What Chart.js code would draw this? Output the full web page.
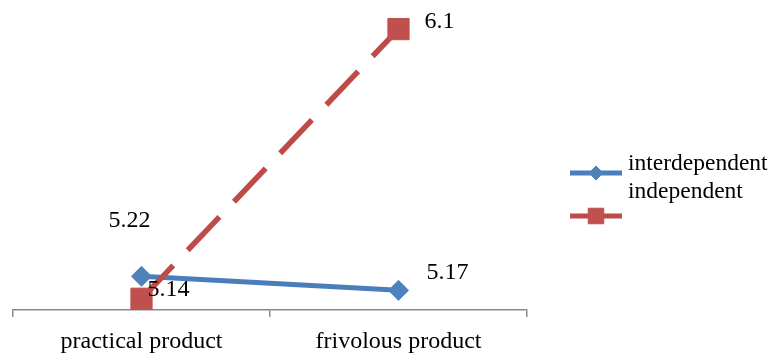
<!DOCTYPE html>
<html>
<head>
<meta charset="utf-8">
<script src="https://cdn.jsdelivr.net/npm/chart.js@4/dist/chart.umd.min.js"></script>
<style>
  html, body { margin: 0; padding: 0; background: #fff; }
  #wrap { width: 772px; height: 354px; }
</style>
</head>
<body>
<div id="wrap"><canvas id="chart" width="772" height="354"></canvas></div>
<script>
const categories = ['practical product', 'frivolous product'];
const seriesNames = ['interdependent', 'independent'];
const interdependentValues = [5.22, 5.17];
const independentValues = [5.14, 6.1];

const FONT = "'Liberation Serif', 'Times New Roman', serif";

// where each value label sits relative to its point (dx, dy to text baseline-left)
const labelOffsets = [
    [[-33, -49], [28, -11]],
    [[6, -3], [26, -1]]
];

const valueLabels = {
    id: 'valueLabels',
    afterDatasetsDraw(chart) {
        const ctx = chart.ctx;
        ctx.save();
        ctx.font = '24px ' + FONT;
        ctx.fillStyle = '#000';
        ctx.textAlign = 'left';
        ctx.textBaseline = 'alphabetic';
        chart.data.datasets.forEach((ds, i) => {
            const meta = chart.getDatasetMeta(i);
            meta.data.forEach((pt, j) => {
                const off = labelOffsets[i][j];
                ctx.fillText(String(ds.data[j]), pt.x + off[0], pt.y + off[1]);
            });
        });
        ctx.restore();
    }
};

const sideLegend = {
    id: 'sideLegend',
    afterDraw(chart) {
        const ctx = chart.ctx;
        const rows = [
            { lineY: 173, textY: 170, r: 7 },
            { lineY: 216, textY: 198, r: 11 }
        ];
        ctx.save();
        chart.data.datasets.forEach((ds, i) => {
            const row = rows[i];
            ctx.strokeStyle = ds.borderColor;
            ctx.lineWidth = 5;
            ctx.setLineDash([]);
            ctx.beginPath();
            ctx.moveTo(570, row.lineY);
            ctx.lineTo(622, row.lineY);
            ctx.stroke();
            ctx.fillStyle = ds.pointBackgroundColor;
            ctx.strokeStyle = ds.pointBorderColor;
            ctx.lineWidth = 1;
            Chart.helpers.drawPoint(ctx, {
                pointStyle: ds.pointStyle,
                radius: row.r,
                rotation: 0,
                borderWidth: 1
            }, 596, row.lineY);
            ctx.fillStyle = '#000';
            ctx.font = '23.5px ' + FONT;
            ctx.textBaseline = 'alphabetic';
            ctx.fillText(seriesNames[i], 628, row.textY);
        });
        ctx.restore();
    }
};

new Chart(document.getElementById('chart'), {
    type: 'line',
    data: {
        labels: categories,
        datasets: [
            {
                label: seriesNames[0],
                data: interdependentValues,
                borderColor: '#4A7EBB',
                borderWidth: 5,
                pointStyle: 'rectRot',
                pointRadius: 10,
                pointBackgroundColor: '#4F81BD',
                pointBorderColor: '#4F81BD',
                pointBorderWidth: 1,
                tension: 0,
                order: 1,
                clip: false
            },
            {
                label: seriesNames[1],
                data: independentValues,
                borderColor: '#BE4B48',
                borderWidth: 5.5,
                borderDash: [46, 21],
                borderCapStyle: 'butt',
                pointStyle: 'rect',
                pointRadius: 15,
                pointBackgroundColor: '#C0504D',
                pointBorderColor: '#C0504D',
                pointBorderWidth: 1,
                tension: 0,
                order: 0,
                clip: false
            }
        ]
    },
    options: {
        responsive: false,
        animation: false,
        devicePixelRatio: 1,
        layout: { autoPadding: false, padding: { left: 13, right: 245, top: 1, bottom: 0 } },
        plugins: {
            legend: { display: false },
            tooltip: { enabled: false }
        },
        scales: {
            x: {
                offset: true,
                grid: {
                    offset: true,
                    drawOnChartArea: false,
                    tickLength: 7,
                    color: '#888888',
                    lineWidth: 1.5
                },
                border: { color: '#888888', width: 1.5 },
                ticks: {
                    color: '#000',
                    font: { family: FONT, size: 24 },
                    padding: 10,
                    maxRotation: 0
                },
                afterFit(scale) { scale.height = 44; }
            },
            y: {
                display: false,
                min: 5.1,
                max: 6.2
            }
        }
    },
    plugins: [valueLabels, sideLegend]
});
</script>
</body>
</html>
